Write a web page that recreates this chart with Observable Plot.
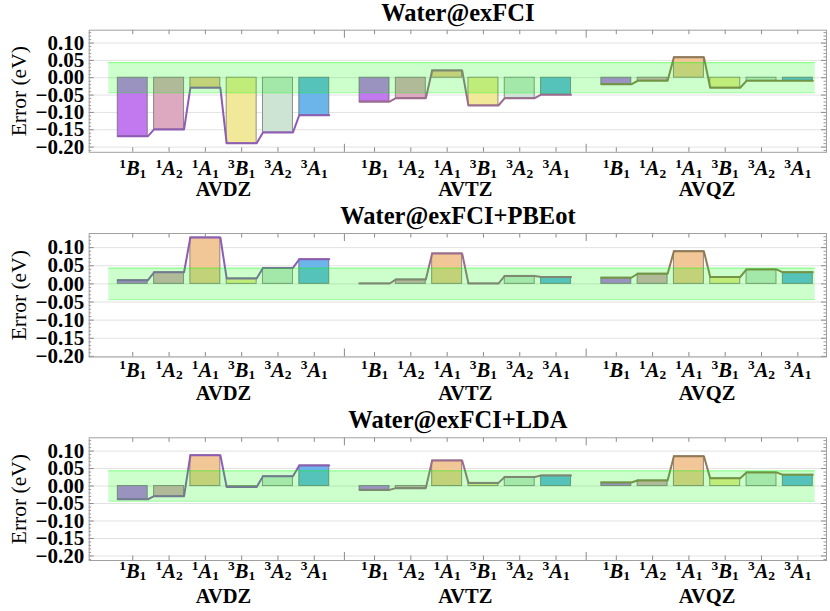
<!DOCTYPE html>
<html><head><meta charset="utf-8">
<script src="https://cdn.jsdelivr.net/npm/d3@7"></script>
<script src="https://cdn.jsdelivr.net/npm/@observablehq/plot@0.6"></script>
<style>
body{margin:0;background:#fff;}
#chart{width:830px;height:611px;overflow:hidden;}
#chart svg{display:block;}
</style></head><body><div id="chart"></div>
<script>
// ---- data ----
const stateLabels = ["¹B₁","¹A₂","¹A₁","³B₁","³A₂","³A₁"];
const basisSets = ["AVDZ","AVTZ","AVQZ"];
const panelTitles = ["Water@exFCI","Water@exFCI+PBEot","Water@exFCI+LDA"];
const yTickValues = [-0.20,-0.15,-0.10,-0.05,0.00,0.05,0.10];
const chemicalAccuracy = 0.0434;

// errors (eV), one array per basis set, order of stateLabels
const exfci_AVDZ = [-0.169,-0.149,-0.029,-0.189,-0.158,-0.108];
const exfci_AVTZ = [-0.069,-0.059, 0.021,-0.080,-0.059,-0.049];
const exfci_AVQZ = [-0.019,-0.009, 0.059,-0.029,-0.009,-0.009];

const pbeot_AVDZ = [0.010,0.032,0.128,0.015,0.044,0.068];
const pbeot_AVTZ = [0.001,0.012,0.084,0.001,0.022,0.019];
const pbeot_AVQZ = [0.017,0.028,0.090,0.019,0.040,0.032];

const lda_AVDZ = [-0.038,-0.029,0.088,-0.003,0.028,0.059];
const lda_AVTZ = [-0.011,-0.006,0.073, 0.009,0.026,0.030];
const lda_AVQZ = [ 0.010, 0.016,0.085, 0.022,0.039,0.032];

// ---- styles ----
const stateColors = ["#c278ef","#dca9c0","#f2c797","#f1e899","#cde3d4","#6cb5ea"];
const lineColors = ["#8e5bb5","#9c6b8e","#8f7a55"];

const panels = [
  {title: panelTitles[0], data: [exfci_AVDZ, exfci_AVTZ, exfci_AVQZ], height: 203, mt: 29.7, mb: 51.2, yd: [-0.215, 0.137], labDy: 23, grpDy: 43.8},
  {title: panelTitles[1], data: [pbeot_AVDZ, pbeot_AVTZ, pbeot_AVQZ], height: 204, mt: 30, mb: 50.5, yd: [-0.2017, 0.139], labDy: 19.5, grpDy: 43.2},
  {title: panelTitles[2], data: [lda_AVDZ, lda_AVTZ, lda_AVQZ], height: 204, mt: 30.3, mb: 51, yd: [-0.213, 0.138], labDy: 17, grpDy: 42.3}
];

const W = 830, ML = 88.7, MR = 4;
const groupStep = 6.66, barHalf = 0.413;
const xDomain = [-1.20, 19.11];
const pxPerX = (W - ML - MR) / (xDomain[1] - xDomain[0]);
const bandX = [-0.66, 2 * groupStep + 5 + 0.48];
const FONT = "Liberation Serif, Times New Roman, serif";

const fmt = v => (v < 0 ? "\u2212" : "") + Math.abs(v).toFixed(2);

function buildPanel(p) {
  const rows = p.data.flatMap((vals, g) => vals.map((v, i) => ({
    g, i, basis: basisSets[g], label: stateLabels[i], color: stateColors[i], value: v, pos: g * groupStep + i
  })));
  const linePts = rows.flatMap(r => [{...r, px: r.pos - barHalf}, {...r, px: r.pos + barHalf}]);
  const centers = rows.map(r => r.pos);
  const separators = [1, 2].map(g => g * groupStep - (groupStep - 5) / 2);
  const plotH = p.height - p.mt - p.mb;
  const pxPerY = plotH / (p.yd[1] - p.yd[0]);
  const minor = d3.range(-21, 14).map(k => k / 100).filter(v => v >= p.yd[0] && v <= p.yd[1] && !yTickValues.some(t => Math.abs(t - v) < 1e-9));
  const majors = yTickValues.filter(v => v >= p.yd[0] - 1e-9 && v <= p.yd[1]);
  const x0 = xDomain[0], x1 = xDomain[1], y0 = p.yd[0], y1 = p.yd[1];

  const svg = Plot.plot({
    width: W, height: p.height,
    marginLeft: ML, marginRight: MR, marginTop: p.mt, marginBottom: p.mb,
    x: {domain: xDomain, axis: null},
    y: {domain: p.yd, axis: null},
    style: {fontFamily: FONT, fontSize: "20px", fontWeight: "bold", background: "#fff", overflow: "visible"},
    marks: [
      Plot.ruleY(majors, {stroke: "#e2e2e2", strokeWidth: 1}),
      Plot.rectY(rows, {x1: d => d.pos - barHalf, x2: d => d.pos + barHalf, y1: 0, y2: "value", fill: "color", stroke: "#5a5a5a", strokeOpacity: 0.65, strokeWidth: 1}),
      Plot.line(linePts, {x: "px", y: "value", z: "basis", stroke: d => lineColors[d.g], strokeWidth: 2, strokeLinejoin: "round"}),
      Plot.rect([chemicalAccuracy], {x1: bandX[0], x2: bandX[1], y1: d => -d, y2: d => d, fill: "#00ff00", fillOpacity: 0.2}),
      Plot.ruleY([-chemicalAccuracy, chemicalAccuracy], {x1: bandX[0], x2: bandX[1], stroke: "#00ff00", strokeOpacity: 0.4, strokeWidth: 1}),
      // frame ticks (inward)
      Plot.ruleY(majors, {x1: x0, x2: x0 + 5 / pxPerX, stroke: "#8a8a8a"}),
      Plot.ruleY(minor, {x1: x0, x2: x0 + 2.5 / pxPerX, stroke: "#9a9a9a"}),
      Plot.ruleY(majors, {x1: x1, x2: x1 - 5 / pxPerX, stroke: "#8a8a8a"}),
      Plot.ruleY(minor, {x1: x1, x2: x1 - 2.5 / pxPerX, stroke: "#9a9a9a"}),
      Plot.ruleX(centers, {y1: y1, y2: y1 - 4.5 / pxPerY, stroke: "#8a8a8a"}),
      Plot.ruleX(centers, {y1: y0, y2: y0 + 4.5 / pxPerY, stroke: "#8a8a8a"}),
      Plot.ruleX(separators, {y1: y1, y2: y1 - 8 / pxPerY, stroke: "#8a8a8a"}),
      Plot.ruleX(separators, {y1: y0, y2: y0 + 8 / pxPerY, stroke: "#8a8a8a"}),
      Plot.frame({stroke: "#a0a0a0"}),
      // y tick labels
      Plot.text(majors, {y: d => d, frameAnchor: "left", textAnchor: "end", dx: -5, text: fmt, fontSize: 21, fill: "#000"}),
      // y axis title
      Plot.text(["Error (eV)"], {frameAnchor: "left", textAnchor: "middle", rotate: -90, dx: -70.5, fontSize: 21.5, fontWeight: "normal", fill: "#000"}),
      // state labels
      Plot.text(rows, {x: "pos", frameAnchor: "bottom", textAnchor: "middle", lineAnchor: "bottom", dy: p.labDy, text: "label", fill: "#000"}),
      // basis labels
      Plot.text(basisSets, {x: (d, g) => g * groupStep + 2.5, frameAnchor: "bottom", textAnchor: "middle", lineAnchor: "bottom", dy: p.grpDy, text: d => d, fontSize: 20.5, fill: "#000"}),
      // title
      Plot.text([p.title], {frameAnchor: "top", textAnchor: "middle", lineAnchor: "bottom", dy: -9.5, text: d => d, fontSize: 24.5, fill: "#000"})
    ]
  });

  // rich-text state labels: upright superscript, bold-italic letter, upright subscript
  const supMap = {"¹": "1", "²": "2", "³": "3"}, subMap = {"₁": "1", "₂": "2"};
  d3.select(svg).selectAll("text").each(function () {
    const chars = Array.from(this.textContent);
    if (chars.length !== 3 || !(chars[0] in supMap) || !(chars[2] in subMap)) return;
    const t = d3.select(this);
    t.text(null);
    t.append("tspan").style("font-size", "13.5px").style("font-style", "normal").attr("dy", -7.5).text(supMap[chars[0]]);
    t.append("tspan").style("font-style", "italic").style("font-weight", "bold")
      .style("font-size", "20.5px").attr("dy", 7.5).text(chars[1]);
    t.append("tspan").style("font-size", "13.5px").style("font-style", "normal").attr("dy", 2.5).text(subMap[chars[2]]);
  });
  return svg;
}

const root = document.getElementById("chart");
panels.forEach(p => root.appendChild(buildPanel(p)));
</script>
</body></html>
